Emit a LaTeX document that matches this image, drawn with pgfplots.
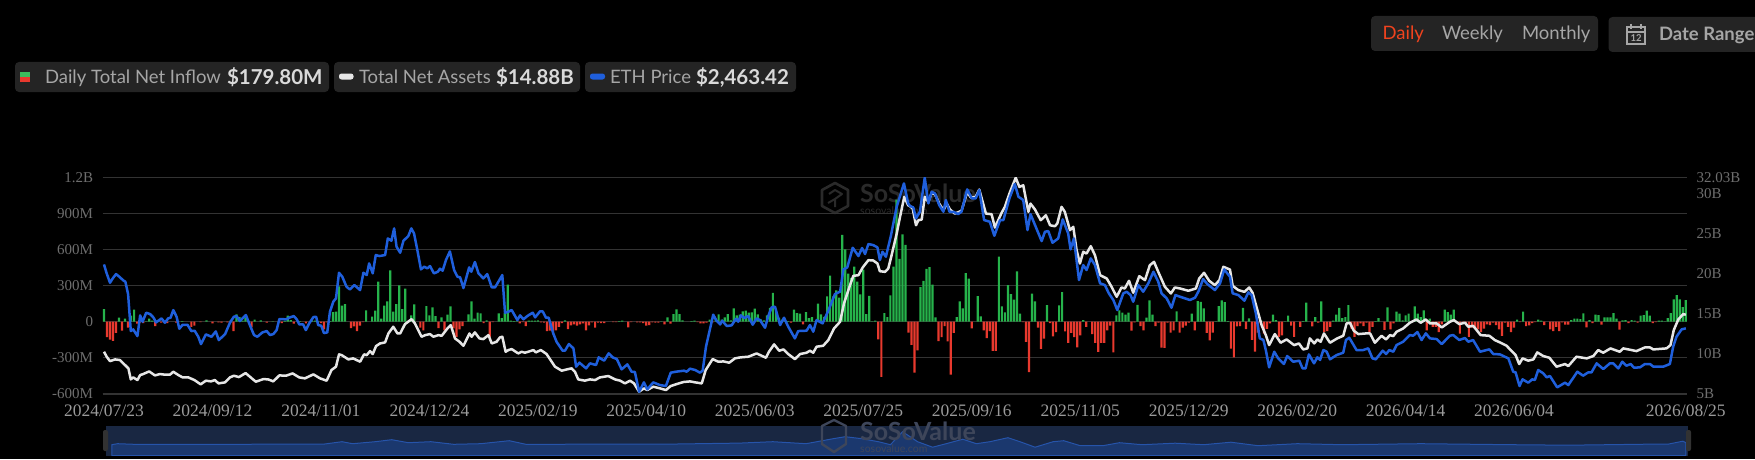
\documentclass[border=0pt]{standalone}
\usepackage{pgfplots}
\pgfplotsset{compat=1.18}
\usepackage{fontspec}
\setmainfont{Liberation Serif}
\newfontfamily\lato{Lato}
\definecolor{gb}{HTML}{26B34B}
\definecolor{rb}{HTML}{E8392E}
\definecolor{pill}{HTML}{242424}
\definecolor{ethc}{HTML}{1F5FDC}
\definecolor{tnac}{HTML}{E6E6E6}
\definecolor{gridc}{HTML}{333333}
\definecolor{tickc}{HTML}{6E6E6E}
\definecolor{labc}{HTML}{A6A6A6}
\definecolor{valc}{HTML}{DADADA}
\definecolor{wm}{HTML}{2A2A2A}
\definecolor{dailyc}{RGB}{240,67,30}
\definecolor{selbg}{RGB}{25,39,66}
\definecolor{selline}{RGB}{38,84,170}
\definecolor{selfill}{RGB}{27,56,110}
\definecolor{hand}{RGB}{50,50,50}
\definecolor{wmb}{RGB}{62,70,90}
\pgfplotsset{base/.style={
  scale only axis, width=1584.4pt, height=216pt,
  at={(102.6pt,65.3pt)}, anchor=south west,
  xmin=-0.46, xmax=525.4, enlargelimits=false,
  major tick length=0pt, minor tick length=0pt}}
\begin{document}
\begin{tikzpicture}[x=1pt,y=1pt]
\useasboundingbox (0,0) rectangle (1755,459);
\fill[black] (0,0) rectangle (1755,459);
% pills
\fill[pill,rounded corners=4pt] (15,459-62) rectangle (329,459-92);
\fill[pill,rounded corners=4pt] (334,459-62) rectangle (580,459-92);
\fill[pill,rounded corners=4pt] (585,459-62) rectangle (796,459-92);
\fill[pill,rounded corners=4pt] (1371,459-16) rectangle (1598,459-51);
\begin{scope}
\clip (0,0) rectangle (1755,459);
\fill[pill,rounded corners=4pt] (1608.5,459-17) rectangle (1780,459-52);
\end{scope}
% legend
\fill[gb!90!white] (20,459-72) rectangle (30,459-77);
\fill[rb] (20,459-77) rectangle (30,459-82);
\fill[tnac,rounded corners=2.5pt] (339,459-73.5) rectangle (353.5,459-79.5);
\fill[ethc,rounded corners=2.5pt] (590,459-73.5) rectangle (605,459-79.5);
\begin{scope}[every node/.style={inner sep=0pt,outer sep=0pt,anchor=base west}]
\node[text=labc] at (45,459-84) {\lato\fontsize{18.5}{20}\selectfont Daily Total Net Inflow};
\node[text=valc] at (227,459-84.5) {\lato\bfseries\fontsize{20.5}{21}\selectfont \$179.80M};
\node[text=labc] at (359,459-84) {\lato\fontsize{18.5}{20}\selectfont Total Net Assets};
\node[text=valc] at (496,459-84.5) {\lato\bfseries\fontsize{20.5}{21}\selectfont \$14.88B};
\node[text=labc] at (610,459-84) {\lato\fontsize{18.5}{20}\selectfont ETH Price};
\node[text=valc] at (696,459-84.5) {\lato\bfseries\fontsize{20.5}{21}\selectfont \$2,463.42};
\node[text=dailyc] at (1382.5,459-40) {\lato\fontsize{18.5}{20}\selectfont Daily};
\node[text=labc] at (1442,459-40) {\lato\fontsize{18.5}{20}\selectfont Weekly};
\node[text=labc] at (1522,459-40) {\lato\fontsize{18.5}{20}\selectfont Monthly};
\node[text=labc] at (1659,459-41) {\lato\bfseries\fontsize{18.5}{20}\selectfont Date Range};
\end{scope}
% calendar icon
\draw[labc,line width=1.2pt] (1627,459-27) rectangle (1645,459-44);
\draw[labc,line width=1.2pt] (1627,459-32) -- (1645,459-32);
\draw[labc,line width=1.2pt] (1631,459-24) -- (1631,459-29) (1641,459-24) -- (1641,459-29);
\node[text=labc,inner sep=0pt] at (1636,459-38) {\lato\bfseries\fontsize{9.5}{10}\selectfont 12};
% watermark
\begin{scope}[wm,line width=2.6pt,line join=round]
\draw (835,459-183) -- (848,459-190) -- (848,459-206) -- (835,459-213) -- (822,459-206) -- (822,459-190) -- cycle;
\draw[line width=2pt] (829,459-194) -- (835,459-190) -- (842,459-194) -- (835,459-199) -- (835,459-207) (835,459-199) -- (828,459-203);
\end{scope}
\node[text=wm,inner sep=0pt,anchor=base west] at (860,459-202) {\lato\bfseries\fontsize{25}{26}\selectfont SoSoValue};
\node[text=wm,inner sep=0pt,anchor=base west] at (860,459-214) {\lato\fontsize{10.5}{11}\selectfont sosovalue.com};
% main: inflow on the left axis
\begin{axis}[base,
  ymin=-600, ymax=1200,
  ybar, bar width=2.2pt, bar shift=0pt,
  ytick={-600,-300,0,300,600,900,1200},
  yticklabels={-600M,-300M,0,300M,600M,900M,1.2B},
  xtick={0,36,72,108,144,180,216,252,288,324,360,396,432,468,525},
  xticklabels={2024/07/23,2024/09/12,2024/11/01,2024/12/24,2025/02/19,2025/04/10,2025/06/03,2025/07/25,2025/09/16,2025/11/05,2025/12/29,2026/02/20,2026/04/14,2026/06/04,2026/08/25},
  ymajorgrids, grid style={gridc,line width=1.2pt},
  axis y line*=left, axis x line*=bottom,
  y axis line style={draw=none},
  x axis line style={draw=gridc,line width=1.8pt,-},
  yticklabel style={text=tickc,font=\fontsize{15}{16}\selectfont,xshift=-6pt},
  xticklabel style={text=tickc!70!white,font=\fontsize{17.5}{18}\selectfont,yshift=-8pt},
  clip=true]
\addplot[fill=gb,draw=none] coordinates {
(0,105)(5,33)(7,25)(9,50)(10,100)(14,3)(15,25)(16,8)(18,5)(26,5)(34,11)(42,8)(44,61)(45,39)(46,8)(47,36)(48,5)(50,17)(52,11)(56,3)(60,5)(61,50)(62,14)(65,5)(69,11)(70,8)(71,5)(75,5)(76,80)(77,83)(78,294)(79,133)(80,147)(87,94)
(89,42)(90,92)(91,335)(92,25)(93,133)(94,169)(95,427)(96,83)(97,147)(98,302)(99,105)(100,275)(101,5)(102,53)(103,144)(107,130)(108,53)(109,119)(110,47)(112,36)(114,58)(115,127)(121,61)(122,169)(123,25)(124,75)(125,69)(127,11)(131,69)(132,30)(133,72)(134,308)(135,8)(136,5)(137,3)(141,8)(142,8)(143,8)(144,11)(153,11)(171,5)(172,8)
(185,3)(187,36)(189,64)(190,103)(191,64)(192,11)(195,5)(196,8)(201,17)(203,22)(204,61)(205,17)(206,36)(207,64)(208,11)(209,111)(210,53)(211,58)(212,86)(213,92)(214,75)(215,78)(216,108)(217,61)(218,19)(219,11)(220,53)(221,116)(222,241)(223,94)(224,33)(225,17)(226,17)(227,5)(229,100)(230,72)(231,67)(233,80)(234,30)(235,39)(236,3)(237,150)(238,61)(239,40)(240,211)(241,383)(242,211)(243,261)(244,200)(245,724)(246,602)(247,400)(248,366)(249,460)(250,335)(251,227)(252,435)(253,64)(254,216)(255,3)(256,8)(259,72)(260,39)(261,219)(262,460)(263,1018)(264,524)(265,727)(266,640)
(271,288)(272,341)(273,441)(274,455)(275,310)(276,36)(283,39)(284,169)(285,111)(286,405)(287,358)(290,214)(291,44)(297,543)(298,128)(299,78)(300,305)(301,230)(302,183)(303,419)(304,67)(308,233)(309,169)(313,139)(317,136)(318,247)(325,14)(336,53)(337,94)(338,75)(339,58)(340,75)(343,141)(346,33)(347,177)(348,58)(356,86)
(361,67)(363,172)(364,166)(365,111)(369,3)(370,130)(371,177)(372,164)(373,5)(378,116)(380,28)(384,11)(388,58)(389,14)(392,3)(393,50)(398,5)(399,158)(402,39)(404,169)(408,8)(409,58)(410,116)(411,30)(412,39)(413,139)(422,5)(423,30)(426,119)(429,83)(430,67)(431,11)(432,53)(433,67)(435,127)(436,67)(437,39)(438,94)(440,25)(445,100)(446,80)
(447,60)(448,100)(469,17)(471,83)(476,17)(477,8)(487,14)(488,25)(489,25)(490,22)(491,69)(493,14)(495,58)(496,55)(498,36)(499,36)(500,36)(501,72)(502,25)(504,11)(505,14)(507,14)(508,8)(510,50)(511,55)(512,92)(513,50)(516,8)(517,8)(518,3)(519,30)(520,72)(521,186)(522,222)(523,186)(524,122)(525,179.8)
};
\addplot[fill=rb,draw=none] coordinates {
(1,-128)(2,-150)(3,-160)(4,-94)(6,-75)(8,-50)(11,-17)(12,-8)(13,-11)(17,-36)(19,-8)(20,-5)(21,-11)(24,-8)(29,-44)(30,-33)(32,-3)(36,-14)(38,-5)(39,-8)(41,-5)(43,-78)(49,-47)(54,-8)(59,-11)(63,-17)(67,-14)(72,-11)(73,-64)(74,-5)(82,-53)(83,-39)(84,-78)(85,-33)(86,-3)
(105,-50)(106,-72)(111,-53)(113,-72)(116,-55)(117,-127)(118,-64)(119,-36)(126,-11)(128,-130)(129,-3)(138,-14)(139,-3)(140,-36)(145,-5)(146,-8)(147,-78)(148,-75)(149,-92)(150,-72)(151,-44)(152,-11)(154,-61)(155,-30)(156,-22)(157,-33)(158,-22)(159,-14)(160,-72)(161,-30)(162,-5)(163,-50)(164,-8)(165,-11)(166,-11)(169,-3)(170,-3)(174,-47)(175,-3)(177,-5)(178,-5)
(179,-11)(180,-33)(181,-28)(182,-5)(183,-8)(184,-8)(186,-22)(188,-17)(197,-3)(198,-14)(199,-14)(200,-8)(202,-5)(228,-8)(232,-22)(257,-147)(258,-460)
(267,-92)(268,-194)(269,-424)(270,-238)(277,-161)(278,-128)(279,-36)(280,-164)(281,-441)(282,-94)(288,-55)(292,-72)(293,-136)(294,-78)(295,-244)(296,-244)(305,-3)(306,-169)(307,-421)(310,-50)(311,-227)(312,-141)(314,-11)(315,-122)(316,-86)(319,-80)(320,-177)(321,-94)(322,-128)(323,-213)(324,-114)(326,-44)(328,-103)(329,-177)(330,-252)(331,-177)(332,-177)(333,-72)(334,-33)(335,-255)(341,-75)(342,-5)(344,-36)(345,-72)(349,-36)(350,-8)(351,-216)(352,-219)(353,-8)(354,-92)(355,-72)
(357,-92)(358,-50)(359,-33)(360,-8)(362,-72)(366,-94)(367,-155)(368,-92)(374,-225)(375,-297)(376,-39)(377,-36)(379,-61)(381,-152)(382,-250)(383,-90)(385,-100)(386,-60)(387,-14)(390,-127)(391,-114)(394,-33)(395,-127)(397,-44)(401,-39)(403,-8)(405,-86)(406,-78)(407,-44)(414,-58)(415,-127)(416,-36)(417,-14)(418,-36)(419,-8)(420,-86)(421,-44)(425,-69)(427,-64)(428,-14)(434,-5)(439,-72)(441,-44)(442,-44)(443,-86)(444,-22)
(449,-8)(450,-100)(451,-14)(452,-14)(453,-127)(454,-50)(455,-58)(456,-64)(457,-86)(458,-58)(459,-22)(460,-28)(461,-8)(462,-28)(463,-64)(464,-119)(465,-8)(466,-44)(467,-86)(468,-50)(470,-3)(472,-36)(473,-30)(474,-11)(475,-3)(478,-28)(480,-64)(481,-78)(482,-44)(483,-78)(484,-5)(485,-25)(486,-25)(492,-47)(494,-11)(497,-25)(503,-67)(506,-11)(509,-8)(514,-11)(515,-3)
};
\end{axis}
% total net assets on the right axis
\begin{axis}[base,
  ymin=5, ymax=32.03,
  ytick={5,10,15,20,25,30,32.03},
  yticklabels={5B,10B,15B,20B,25B,30B,32.03B},
  axis y line*=right, axis x line=none,
  y axis line style={draw=none},
  yticklabel style={text=tickc,font=\fontsize{15}{16}\selectfont,xshift=6pt}]
\addplot[tnac,line width=2.5pt,line join=round] coordinates {
(0,10.25)(0.9,9.63)(2,9.08)(3.7,9.29)(5.3,9.21)(7,8.58)(8.1,8.17)(8.9,6.79)(9.7,7.04)(11.1,6.71)(12,7.33)(13,7.46)(15,7.79)(16.9,7.29)(18.6,7.46)(20.2,7.38)(21.9,7.38)(23,7.75)(24.7,7.33)(26.1,7.04)(28,7.04)(30,6.71)(32.1,6.17)(33.8,6.63)(35.5,6.54)(36.8,6.71)(38,6.29)(40.2,6.42)(41.8,7.04)(43.1,7.25)(44.8,7.08)(47,7.58)(48.4,7.13)(50.4,6.5)(52.9,6.83)(54.5,6.79)(56.2,6.54)(58.2,7.29)(60.4,7.25)(62.6,7.54)(64.8,7.04)(66.7,6.92)(69.5,7.42)(71.7,6.92)(73.9,6.63)(75.5,7.96)(77,8.38)(78,9.92)(78.9,9.83)(81.1,9.29)(82.7,9.42)(85,9)(86.3,9.92)(87.2,9.83)(88.3,10.33)
(89.2,9.96)(90.3,10.96)(91.6,11.29)(93.3,11.42)(94.4,12.54)(96,13.38)(97.4,12.54)(98.3,12.54)(99.9,13.71)(102.1,14.33)(103.2,13.79)(105.4,12.13)(106.6,12.33)(108.2,12.46)(109.3,12.13)(111,12.33)(112.1,12.25)(114,13.17)(115.1,13.58)(116.5,11.92)(118,11.5)(119.3,11)(121.3,12.54)(122,12.13)(123.1,12.67)(124.6,11.92)(125.9,11.83)(127.6,12.33)(128.7,11.29)(130.3,11.5)(131.4,12.04)(132.2,12.13)(133.3,10.25)(134.2,10.46)(135.3,10.58)(137.5,10.04)(138.6,10.25)(139.7,10.13)(140.8,10.25)(142.5,10.46)(143.3,10.17)(145,10.46)(146.9,9.96)(149.7,8.38)(151.9,7.88)(153.6,8.04)(155.2,8.17)(156.3,7.75)(157.4,6.79)(159.6,6.63)(161.3,6.79)(163,6.71)(164.6,7.04)(167.4,7.21)(169.6,6.79)(171.3,6.63)(172.9,6.29)(174.6,6.63)(175.9,6.29)(177.6,5.25)
(179.2,5.67)(180.3,5.46)(182.3,5.88)(184.5,5.67)(186.5,5.46)(188.1,5.96)(190.1,6.21)(192.3,6.46)(194.5,6.54)(196.2,6.42)(198.4,6.29)(199.7,7.96)(202,9.33)(203.9,9)(205.6,9.04)(207.5,8.88)(209.4,9.42)(211.1,9.54)(213.9,9.63)(216.6,10.04)(219.7,9.5)(220.7,10.25)(222.4,11.17)(224.1,10.38)(225.5,10.54)(227.1,9.96)(229.3,9.33)(231,9.96)(233.2,10.13)(234.3,10.38)(235.4,10.13)(236.5,10.88)(238.7,11)(240.4,11.71)(242.3,13.17)(244.3,14)(245.6,16.29)(247.6,18.58)(248.7,19.75)(250.4,19.83)(251.8,20.79)(253.7,21.71)(255.3,21.67)(256.7,21.29)(257.5,20.33)(259.2,20.25)(260.3,20.67)(261.4,22.33)(263.1,25.04)(264.2,27.13)(265.6,29.63)(266.9,28.58)
(267.5,28.46)(268.4,28.17)(269.5,26.08)(270.3,26.71)(271.4,26.79)(272.4,29.63)(273.6,29)(274.7,30.13)(275.8,29.96)(277.2,28.79)(278.6,27.96)(279.7,28.79)(280.8,28.04)(282.4,27.54)(284.6,27.88)(286.5,30.25)(287.7,29.54)(289.3,29.63)(290.5,30.54)(292.7,27.54)(294.6,27.46)(295.7,25.79)(297.9,27.63)(299,28.38)(300.5,30.04)(302.6,32.03)(303.8,30.88)(305.1,31.08)(306.8,27.75)(307.5,28.79)(309,28.04)(310.9,26.71)(312.6,27.33)(314,26.08)(315.6,25.96)(316.4,26.29)(317.8,28.38)(318.9,27.75)(320.6,25.46)(321.7,25.88)(322.8,22.96)(323.9,21.29)(325,22.75)(326.1,22.54)(327.5,23.46)(328.9,22.33)(330.6,19.83)(332.8,19.42)(334.4,18.38)(336.1,17.13)(337.7,18.29)(338.8,18.17)(340.2,19.13)(341.6,17.63)(343.6,19.71)(345.5,19.21)(347.1,21.08)(348.5,21.5)(349.9,20.25)(352.1,18.38)(354.1,17.54)(355.4,18.29)(357.1,18.17)
(359.9,17.88)(362.4,18.17)(363.5,19.42)(365.1,20.13)(366.8,19.13)(368.7,18.58)(370.2,19.21)(371.5,20.88)(373.7,20.54)(374.6,18.5)(376.5,17.96)(378.5,17.75)(380.1,18.29)(381.2,17.63)(382.8,15.46)(384.2,13.58)(385.6,12.33)(386.7,11.08)(388.6,12.46)(390.5,11.38)(392.5,11.79)(395,11.08)(396.6,11.29)(398,10.54)(399.4,10.67)(400.2,11.92)(401.7,11.29)(402.7,11.79)(403.8,11.5)(404.9,12.54)(406.9,11.38)(409.3,11.92)(411.3,12.25)(412.4,13.79)(413.5,13.88)(414.8,12.88)(416.3,12.46)(418.8,12.54)(420.2,12.54)(421.8,11.38)(424,12.25)(425.5,11.79)(426.8,12.33)(427.9,12.21)(429,12.75)(431.2,13.17)(433.4,13.88)(435.6,14.29)(437,13.88)(438.7,14.29)(440.1,13.79)(442.3,13.79)(444,13.29)(446.7,14)
(448,14.21)(449.8,13.71)(451.7,13.88)(452.8,13.38)(454.4,13.5)(456.9,12.33)(459.8,12.25)(461.6,11.71)(463.3,11.42)(465.5,11)(468.5,9.83)(469.7,8.71)(470.8,9.42)(472.7,9.13)(474.4,9.29)(475.7,10.17)(477.7,9.71)(479.7,9.5)(482.1,8.38)(484.9,8.71)(486,8.46)(488.7,9.63)(492.1,9.42)(494.3,9.71)(495.9,10.46)(497.6,10.13)(500,10.67)(501.5,10.46)(503.1,10.25)(504.2,10.67)(507,10.46)(508.6,10.33)(511.4,10.79)(513.1,10.79)(514.2,10.54)(518.6,10.67)(519.9,11.08)(521,12.96)(522.5,14.29)(524.1,14.96)(525,14.88)
};
\end{axis}
% ETH price on a hidden axis
\begin{axis}[base, ymin=1385, ymax=4950, hide axis]
\addplot[ethc,line width=2.5pt,line join=round] coordinates {
(0,3519)(0.9,3370)(2,3216)(2.9,3288)(4,3359)(5.1,3315)(6.4,3255)(7.1,3233)(8,3029)(8.9,2419)(9.7,2446)(11.1,2336)(12,2677)(12.8,2573)(14,2721)(15.3,2699)(16.4,2644)(17.3,2562)(19.1,2628)(20.2,2556)(21.3,2628)(22.1,2639)(23,2765)(24.1,2655)(25,2457)(26.1,2523)(27.7,2523)(29,2419)(30.1,2424)(31.3,2325)(32.2,2204)(33.8,2364)(35.7,2325)(37.1,2413)(38.1,2270)(40.2,2369)(41.8,2556)(43.1,2655)(44,2666)(45.1,2584)(47.1,2683)(48.4,2518)(49.8,2353)(50.9,2325)(52.6,2397)(54,2419)(55.1,2353)(56.2,2369)(57.3,2435)(58.2,2617)(59,2617)(60.4,2611)(61.7,2644)(63,2666)(64,2611)(64.8,2529)(66.1,2529)(67,2435)(68.1,2545)(69.5,2650)(70.4,2655)(71.1,2518)(72.1,2507)(73,2386)(74.1,2397)(75,2738)(76.1,2903)(77,2958)(78,3381)(79.1,3315)(80.5,3150)(81.6,3106)(83.1,3178)(85,3095)(86.1,3381)(87.2,3343)(88,3535)
(89.2,3371)(90.2,3673)(91.4,3657)(93.3,3673)(94.2,3948)(95.4,3910)(96.3,4113)(97.1,3811)(98.3,3712)(99.4,3910)(101,3987)(102,4113)(102.9,4031)(104,3756)(105.2,3437)(106.3,3481)(107.3,3453)(108.2,3492)(109.5,3371)(110.8,3398)(111.5,3448)(112.4,3415)(113.5,3591)(114.8,3734)(116.2,3426)(117.3,3316)(118.2,3305)(119.3,3129)(121.2,3470)(121.9,3398)(123.1,3558)(124.3,3371)(125.9,3288)(127.2,3359)(128.7,3140)(129.8,3140)(130.9,3233)(132.2,3343)(133.1,2722)(134,2733)(135.3,2766)(137.2,2601)(138.1,2678)(139.2,2612)(140.5,2667)(141.2,2689)(142.3,2722)(143.1,2645)(144.7,2744)(145.6,2744)(146.7,2639)(147.6,2639)(149.1,2381)(150.2,2243)(152.2,2095)(153,2095)(154.3,2205)(155.8,2133)(156.7,1831)(157.8,1897)(160,1803)(161.3,1886)(163.3,1858)(164.2,1985)(166,1930)(167.5,2051)(168.8,1985)(170.2,1957)(171.8,1787)(173.7,1869)(175.1,1748)(176.2,1743)(177.6,1418)
(179.2,1572)(180.3,1457)(182.3,1572)(184.5,1528)(186.5,1512)(188.1,1732)(189.8,1748)(192.5,1765)(193.4,1748)(194.5,1798)(196.2,1776)(197.8,1732)(198.7,1765)(199.8,2161)(201.1,2447)(202.2,2689)(203.3,2590)(204.5,2529)(205.2,2590)(206.7,2502)(208.3,2513)(209.8,2623)(210.5,2573)(211.4,2678)(212.5,2634)(213.8,2667)(215.3,2524)(216.6,2628)(217.7,2601)(219.4,2474)(220.5,2672)(221.6,2810)(222.7,2821)(224.4,2518)(225.7,2639)(227.1,2491)(229.3,2298)(230.4,2419)(233.2,2425)(234.3,2518)(235.4,2408)(236.5,2601)(238.5,2546)(240.4,2755)(242.6,3030)(244.3,3068)(245.4,3437)(246.7,3470)(248.5,3794)(250.4,3657)(251.6,3789)(252.6,3690)(253.7,3855)(255.3,3838)(256.7,3800)(257.5,3591)(258.4,3728)(259.5,3646)(261.1,3976)(263.1,4471)(265.5,4856)(266.9,4526)
(267.5,4482)(268.6,4460)(269.5,4278)(270.8,4388)(272.4,4950)(273.6,4526)(274.7,4718)(275.8,4691)(277.2,4498)(278.6,4388)(279.4,4581)(280.6,4388)(281.9,4388)(283.5,4350)(284.6,4388)(286.5,4757)(288,4608)(289.3,4608)(290.5,4746)(292.1,4251)(294,4223)(295.5,3992)(297.4,4251)(298.5,4251)(300.5,4608)(302.3,4845)(303.5,4636)(305.1,4581)(306.5,4086)(307.5,4350)(309,4168)(311.2,3904)(312.3,4058)(313.4,4069)(314.8,3877)(316.7,3948)(318.2,4262)(320,4031)(320.8,3767)(321.9,3948)(323.6,3261)(325,3508)(326.1,3426)(327.5,3618)(328.9,3508)(330.6,3206)(332.2,3178)(333.5,3041)(335,2931)(336.3,2766)(338.3,3041)(339.4,3068)(340.7,3013)(341.6,2903)(343.3,3178)(344.9,3068)(346.6,3206)(348.3,3398)(349.9,3233)(351,3041)(352.7,2958)(354.3,2804)(355.6,3013)(357.1,2986)
(360.4,2931)(362.1,2969)(363.2,3068)(364.8,3277)(366.2,3195)(368.7,3096)(370.4,3206)(371.8,3437)(373.7,3315)(374.6,3041)(376.5,3013)(378.5,2920)(379.8,3057)(380.9,3013)(382.3,2711)(383.6,2298)(384.8,2271)(385.6,2106)(386.7,1820)(388.4,2078)(389.7,1968)(391.6,1875)(392.7,2007)(394.7,1913)(396.7,1930)(397.8,1803)(398.8,1803)(399.9,2034)(401.6,1886)(402.7,1985)(403.6,1941)(404.7,2106)(405.8,2078)(406.9,1952)(409.1,2023)(411.3,2062)(412.2,2271)(413.3,2309)(414.4,2216)(415.7,2106)(417.9,2106)(419.6,2133)(421,1968)(422.1,1952)(424.4,2095)(425.5,2040)(426.6,2106)(427.9,2078)(429,2188)(431.2,2243)(433.4,2353)(434.5,2342)(435.9,2403)(437.3,2271)(438.7,2381)(440.1,2298)(442.3,2287)(444,2205)(446.7,2342)
(447.8,2353)(449.8,2271)(451.7,2304)(452.8,2243)(454.4,2271)(456.7,2078)(459.8,2117)(461.1,2040)(463.3,2034)(466.1,1968)(467.7,1748)(468.5,1737)(469.8,1512)(470.8,1622)(472.7,1567)(474,1622)(474.9,1611)(476,1776)(477.7,1721)(478.8,1655)(479.9,1677)(482.3,1490)(484.9,1567)(486,1528)(489,1748)(490.9,1682)(492.6,1737)(493.7,1737)(495.4,1886)(497.6,1792)(499.8,1886)(500.9,1886)(502.6,1803)(503.9,1913)(505.3,1847)(506.7,1875)(507.8,1814)(509.8,1820)(511.4,1875)(513.1,1875)(514.2,1831)(517.5,1831)(519.7,1875)(520.8,2161)(521.9,2325)(523.6,2447)(525,2463.42)
};
\end{axis}
% range selector
\fill[selbg] (106,459-425.7) rectangle (1688,459-455.7);
\begin{axis}[scale only axis,width=1582pt,height=30pt,at={(106pt,3.3pt)},anchor=south west,
  xmin=0.66,xmax=525.7,ymin=0,ymax=30,hide axis,clip=true]
\addplot[draw=selline,line width=1pt,fill=selfill] coordinates {
(2.6,11)(4.5,12)(10,11.4)(40,11.4)(73,11.6)(79,14)(82.5,12)(90,14)(95.5,16)(101,13)(108.5,14)(116,11.4)(125,12)(134.5,15)(140,11.4)(188,11.6)(211,12.6)(222,14)(233,12)(242,17)(246,19)(251.5,17)(257,14)(261,11)(265,24)(270,14)(275,8.5)(279.5,12)(285,16.5)(289.5,12)(294,14)(300,18)(304,14)(309,8.5)(315,14)(318.5,15)(324,10)(331.5,10)(337,13)(344.5,11)(355.5,12.5)(365,11)(374,13.5)(383,10)(396,12)(411,11)(437,12)(467,11)(486,10.5)(512,11.5)(519,11.5)(524,14.5)(525,13)
} \closedcycle;
\end{axis}
\fill[hand,rounded corners=2pt] (103,459-430) rectangle (108,459-451);
\fill[hand,rounded corners=2pt] (1686,459-430) rectangle (1691,459-451);
\begin{scope}[wmb,line width=2.4pt,line join=round]
\draw (834,459-420) -- (846,459-426) -- (846,459-444) -- (834,459-452) -- (822,459-444) -- (822,459-426) -- cycle;
\end{scope}
\node[text=wmb,inner sep=0pt,anchor=base west] at (860,459-440) {\lato\bfseries\fontsize{25}{26}\selectfont SoSoValue};
\node[text=wmb,inner sep=0pt,anchor=base west] at (860,459-452) {\lato\fontsize{10.5}{11}\selectfont sosovalue.com};
\end{tikzpicture}
\end{document}
